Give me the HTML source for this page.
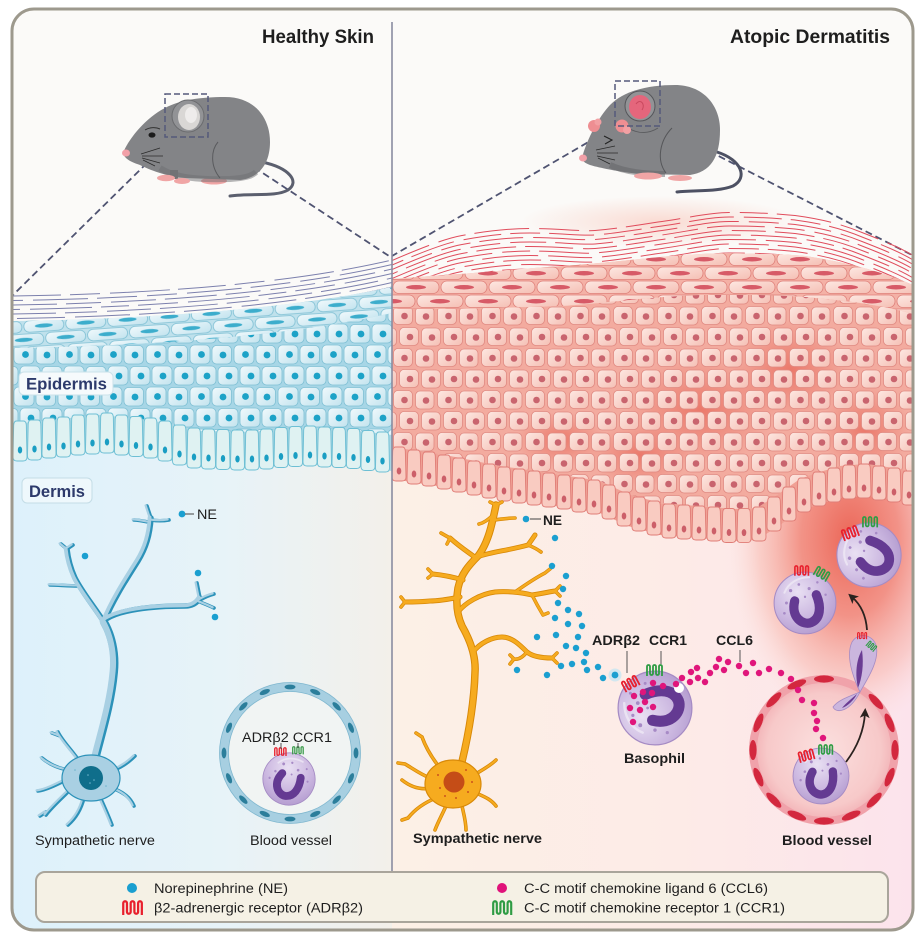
<!DOCTYPE html>
<html><head><meta charset="utf-8"><title>Healthy Skin vs Atopic Dermatitis</title>
<style>
html,body{margin:0;padding:0;background:#fff}
body{width:924px;height:941px;overflow:hidden}
svg{display:block}
text{font-family:"Liberation Sans",Arial,Helvetica,sans-serif;fill:#1e1e1e}
.b{font-weight:bold}
</style></head><body>
<svg xmlns="http://www.w3.org/2000/svg" width="924" height="941" viewBox="0 0 924 941">
<defs>
<clipPath id="fc"><rect x="12" y="9" width="901" height="921" rx="22"/></clipPath>
<linearGradient id="hd" gradientUnits="userSpaceOnUse" x1="13" y1="0" x2="392" y2="0">
<stop offset="0" stop-color="#ddf1fb"/><stop offset="0.55" stop-color="#e7f3f8"/><stop offset="1" stop-color="#f3f0ea"/></linearGradient>
<linearGradient id="ad" gradientUnits="userSpaceOnUse" x1="392" y1="0" x2="913" y2="0">
<stop offset="0" stop-color="#fcf0e6"/><stop offset="0.55" stop-color="#fdebe7"/><stop offset="1" stop-color="#fce3ec"/></linearGradient>
<radialGradient id="glow"><stop offset="0" stop-color="#ea5f4f" stop-opacity="0.95"/><stop offset="0.4" stop-color="#ef7766" stop-opacity="0.75"/><stop offset="0.75" stop-color="#f5a595" stop-opacity="0.38"/><stop offset="1" stop-color="#fbd8cf" stop-opacity="0"/></radialGradient>
<radialGradient id="patch"><stop offset="0" stop-color="#e96d5e" stop-opacity="0.8"/><stop offset="1" stop-color="#e96d5e" stop-opacity="0"/></radialGradient>
<radialGradient id="haze"><stop offset="0" stop-color="#f9d3c9" stop-opacity="0.8"/><stop offset="1" stop-color="#f9d3c9" stop-opacity="0"/></radialGradient>
<linearGradient id="hcg" x1="0" y1="0" x2="1" y2="1"><stop offset="0" stop-color="#f0f9fc"/><stop offset="1" stop-color="#c2e3ee"/></linearGradient>
<linearGradient id="acg" x1="0" y1="0" x2="1" y2="1"><stop offset="0" stop-color="#fde8e2"/><stop offset="1" stop-color="#f5bfb4"/></linearGradient>
<radialGradient id="cg" cx="0.38" cy="0.32" r="0.75"><stop offset="0" stop-color="#e9e0f3"/><stop offset="0.6" stop-color="#cbb7e0"/><stop offset="1" stop-color="#b39bcf"/></radialGradient>
<radialGradient id="vg"><stop offset="0" stop-color="#fbe0df"/><stop offset="0.8" stop-color="#f7c9c9"/><stop offset="1" stop-color="#f2b2b6"/></radialGradient>

<pattern id="hsp" width="44" height="42" patternUnits="userSpaceOnUse" x="13" y="344">
<g fill="url(#hcg)" stroke="#7fc0d4" stroke-width="0.8">
<rect x="1" y="1" width="20" height="19" rx="4.5"/><rect x="23" y="1.5" width="19.5" height="18.5" rx="4.5"/>
<rect x="7" y="22" width="20" height="19" rx="4.5"/><rect x="29" y="22.5" width="20" height="18.5" rx="4.5"/><rect x="-15" y="22.5" width="20" height="18.5" rx="4.5"/>
</g>
<g fill="#1ca2c7"><circle cx="12.5" cy="10.5" r="3.4"/><circle cx="34" cy="11" r="3.4"/><circle cx="18" cy="32" r="3.4"/><circle cx="40" cy="32" r="3.4"/><circle cx="-4" cy="32" r="3.4"/></g>
</pattern>
<pattern id="asp" width="44" height="42" patternUnits="userSpaceOnUse" x="392" y="305">
<g fill="url(#acg)" stroke="#e08a82" stroke-width="0.8">
<rect x="1.5" y="1.5" width="19" height="18" rx="4.5"/><rect x="23.5" y="2" width="18.5" height="18" rx="4.5"/>
<rect x="7.5" y="22.5" width="19" height="18" rx="4.5"/><rect x="29.5" y="23" width="19" height="18" rx="4.5"/><rect x="-14.5" y="23" width="19" height="18" rx="4.5"/>
</g>
<g fill="#c9646e"><circle cx="12.5" cy="11" r="3.3"/><circle cx="34" cy="11.5" r="3.3"/><circle cx="18" cy="32" r="3.3"/><circle cx="40" cy="32.5" r="3.3"/><circle cx="-4" cy="32.5" r="3.3"/></g>
</pattern>
<pattern id="hgr" width="42" height="26" patternUnits="userSpaceOnUse" y="321" patternTransform="rotate(-4)">
<g fill="url(#hcg)" stroke="#7fc0d4" stroke-width="0.8">
<rect x="1" y="1" width="40" height="11.5" rx="5.5"/><rect x="22" y="14" width="40" height="11.5" rx="5.5"/><rect x="-20" y="14" width="40" height="11.5" rx="5.5"/>
</g>
<g fill="#3cadcc"><ellipse cx="21" cy="6.75" rx="9" ry="2"/><ellipse cx="42" cy="19.75" rx="9" ry="2"/><ellipse cx="0" cy="19.75" rx="9" ry="2"/></g>
</pattern>
<pattern id="agr" width="48" height="28" patternUnits="userSpaceOnUse" x="392" y="252">
<g fill="url(#acg)" stroke="#de7f79" stroke-width="0.8">
<rect x="1" y="1" width="46" height="12.5" rx="6"/><rect x="25" y="15" width="46" height="12.5" rx="6"/><rect x="-23" y="15" width="46" height="12.5" rx="6"/>
</g>
<g fill="#d75a67"><ellipse cx="24" cy="7.25" rx="10" ry="2.2"/><ellipse cx="48" cy="21.25" rx="10" ry="2.2"/><ellipse cx="0" cy="21.25" rx="10" ry="2.2"/></g>
</pattern>

<g id="hb"><path d="M-3.5,0 L3.5,0 Q6,0 6.3,4 L7,36 Q7,40 3,40 L-3,40 Q-7,40 -7,36 L-6.3,4 Q-6,0 -3.5,0 Z" fill="#dff2f2" stroke="#6dbfd4" stroke-width="0.9"/><ellipse cx="0" cy="29" rx="2.2" ry="3.5" fill="#1a9ec3"/></g>
<g id="ab"><path d="M-3.5,0 L3.5,0 Q6,0 6.3,4 L7,30 Q7,34 3,34 L-3,34 Q-7,34 -7,30 L-6.3,4 Q-6,0 -3.5,0 Z" fill="#f9cbc1" stroke="#e07d77" stroke-width="0.9"/><ellipse cx="0" cy="24" rx="2.3" ry="3.5" fill="#cc5f69"/></g>

<path id="rc" d="M1,12 V2.5 A1.5,1.5 0 0 1 4,2.5 V9.5 A1.5,1.5 0 0 0 7,9.5 V2.5 A1.5,1.5 0 0 1 10,2.5 V9.5 A1.5,1.5 0 0 0 13,9.5 V2.5 A1.5,1.5 0 0 1 16,2.5 V12" fill="none" stroke-width="1.8" stroke-linejoin="round"/>

<g id="cell">
<circle r="30" fill="url(#cg)" stroke="#a58bc4" stroke-width="1"/>
<path d="M-20,-10 C-16,-20 -6,-25 4,-25" fill="none" stroke="#f1ecf7" stroke-width="2" stroke-linecap="round" opacity="0.7"/>
<g fill="#a78ac6"><circle cx="-14" cy="-12" r="1.6"/><circle cx="-6" cy="-18" r="1.3"/><circle cx="4" cy="-14" r="1.5"/><circle cx="-18" cy="0" r="1.4"/><circle cx="-10" cy="-4" r="1.2"/><circle cx="12" cy="-20" r="1.2"/><circle cx="-20" cy="10" r="1.3"/><circle cx="20" cy="-8" r="1.2"/><circle cx="0" cy="-6" r="1.1"/></g>
<path d="M-10,-2 C-14,14 -2,22 6,19 C15,15 16,4 11,-8" fill="none" stroke="#643a92" stroke-width="9" stroke-linecap="round"/>
</g>

<marker id="arr" viewBox="0 0 10 10" refX="5" refY="5" markerWidth="10" markerHeight="10" markerUnits="userSpaceOnUse" orient="auto"><path d="M0,0 L10,5 L0,10 L2.5,5 Z" fill="#2a221f"/></marker>

<path id="hct" d="M13,294 C150,292 290,282 392,258"/>
<path id="act" d="M392,258 C420,246 445,236 462,233 C490,228 510,226 530,226 C560,226 580,229 595,228 C620,226 640,222 662,219 C690,215 710,210 729,210 C755,210 775,211 795,213 C825,217 845,223 862,230 C880,237 900,245 913,253"/>
<clipPath id="hcc"><path d="M13,294 C150,292 290,282 392,258 L392,287 C290,309 150,319 13,321 Z"/></clipPath>
<clipPath id="acc"><path d="M392,258 C420,246 445,236 462,233 C490,228 510,226 530,226 C560,226 580,229 595,228 C620,226 640,222 662,219 C690,215 710,210 729,210 C755,210 775,211 795,213 C825,217 845,223 862,230 C880,237 900,245 913,253 L913,285 C900,279 880,272 860,267 C845,263 825,259 805,256 C795,255 780,254 760,254 C740,253 720,253 701,254 C680,255 660,257 630,260 C610,262 590,264 563,266 C530,268 500,271 460,274 C440,275 420,277 392,279 Z"/></clipPath>
<clipPath id="asc"><path d="M392,309 C420,309 440,309 460,309 C500,308 530,307 563,306 C590,304 610,302 630,300 C660,297 680,296 701,295 C720,295 740,295 760,295 C780,296 795,296 805,297 C825,299 845,301 860,303 C880,306 900,310 913,314 L913,472 L900,469 L867,464 L840,466 L817,473 L800,479 L780,493 L757,508 L735,509 L710,507 L660,503 L628,494 L600,481 L550,473 L500,466 L450,456 L392,447 Z"/></clipPath>

<path id="hn1" d="M94,764 C101,735 111,705 114,672 C116,652 111,634 104,622"/>
<path id="hn2" d="M104,622 C93,605 82,592 75,578 C70,567 68,558 67,549 M104,622 C113,600 126,580 138,561 C146,548 150,535 151,518 M106,619 C120,610 150,606 185,606 C192,606 197,603 200,598"/>
<path id="hn3" d="M78,586 C68,586 58,585 50,585 M151,518 L147,506 M151,520 C157,521 163,521 169,520 M148,522 C143,521 138,520 134,520 M200,598 L197,583 M200,600 C205,597 210,595 214,594 M200,602 C205,604 210,606 214,608 M67,549 L61,544 M67,549 L73,545"/>
<path id="hd1" d="M80,762 C72,750 63,742 58,732 M68,770 C57,768 49,764 42,758 M66,780 C56,785 46,790 38,791 M70,790 C60,800 52,807 46,815 M84,798 C81,810 75,819 68,825 M100,797 C105,808 109,817 112,825 M112,788 C123,792 130,797 134,806 M114,770 C124,766 130,761 135,756 M60,736 L52,733 M46,812 L40,816"/>

<path id="an1" d="M460,770 C467,742 474,708 475,672 C476,656 470,640 462,626 C456,613 456,600 458,588 C461,574 469,565 478,556 C485,547 489,536 492,523 C494,515 495,510 496,505"/>
<path id="an2" d="M473,652 C480,643 492,637 502,637 C512,637 520,645 527,652 C532,656 540,658 552,658 M458,612 C465,603 480,594 495,592 C505,591 520,592 532,595 C540,594 548,592 555,591 M480,556 C492,552 510,550 528,545 C531,541 533,538 535,535 M476,558 C468,552 460,547 450,538 M460,597 C450,599 440,601 430,601 C420,602 412,602 405,602 M463,580 C453,577 443,575 433,574"/>
<path id="an3" d="M527,652 C523,657 519,660 514,659 M532,595 C536,603 540,610 543,615 M515,592 C525,585 535,578 545,573 M493,515 C488,520 484,523 479,524 M494,520 C502,519 508,518 515,518 M528,545 C533,547 537,549 541,552 M448,537 L441,533 M450,538 L447,544 M405,602 L401,597 M405,602 L401,607 M552,658 L557,653 M552,658 L557,663 M555,591 L560,586 M555,591 L560,596 M496,505 L490,502 M496,505 L502,502 M433,574 L428,569 M433,574 L428,578 M543,615 L548,613 M545,573 L550,569 M514,659 L510,655 M514,659 L510,664"/>
<path id="ad1" d="M440,768 C432,758 426,748 422,737 M430,778 C420,774 412,768 405,764 M432,788 C422,790 412,788 402,780 M436,798 C426,802 416,808 408,818 M446,806 C442,815 438,822 435,830 M462,806 C464,815 466,822 466,830 M474,792 C482,796 490,798 496,806 M474,775 C482,770 490,766 496,760 M422,737 L416,733 M405,764 L398,763 M408,818 L402,820"/>
</defs>

<rect width="924" height="941" fill="#fff"/>
<rect x="12" y="9" width="901" height="921" rx="22" fill="#fbfaf8"/>

<g clip-path="url(#fc)">
<rect x="12" y="400" width="380" height="535" fill="url(#hd)"/>
<rect x="392" y="430" width="522" height="505" fill="url(#ad)"/>
<ellipse cx="850" cy="540" rx="122" ry="190" fill="url(#glow)"/>
<ellipse cx="660" cy="222" rx="140" ry="26" fill="url(#haze)"/>

<g fill="none" stroke="#4f5371" stroke-width="1.8" stroke-dasharray="7 4">
<path d="M147,163 L13,295"/><path d="M208,137 L392,258"/>
<path d="M616,126 L392,256"/><path d="M660,126 L912,255"/>
</g>

<!-- healthy epidermis -->
<g clip-path="url(#hcc)" fill="none" stroke="#7c80ad" stroke-width="1">
<use href="#hct" y="2" stroke-dasharray="48 9 30 10 60 8"/>
<use href="#hct" y="6.5" stroke-dasharray="30 10 55 9 40 10" stroke-dashoffset="20"/>
<use href="#hct" y="11" stroke-dasharray="52 9 35 10 45 9" stroke-dashoffset="8"/>
<use href="#hct" y="15.5" stroke-dasharray="40 10 62 9 28 9" stroke-dashoffset="33"/>
<use href="#hct" y="20" stroke-dasharray="58 9 32 10 44 9" stroke-dashoffset="15"/>
<use href="#hct" y="24.5" stroke-dasharray="36 9 48 10 55 9" stroke-dashoffset="41"/>
<use href="#hct" y="29" stroke-dasharray="46 10 38 9 60 9" stroke-dashoffset="5"/>
</g>
<path d="M13,321 C150,319 290,309 392,287 L392,313 C290,336 150,346 13,348 Z" fill="#bfe1ec"/>
<path d="M13,321 C150,319 290,309 392,287 L392,313 C290,336 150,346 13,348 Z" fill="url(#hgr)"/>
<path d="M13,348 C150,346 290,336 392,313 L392,435 L350,430 L300,428 L250,432 L200,431 L150,420 L100,415 L60,419 L13,424 Z" fill="#a7d6e6"/>
<path d="M13,348 C150,346 290,336 392,313 L392,435 L350,430 L300,428 L250,432 L200,431 L150,420 L100,415 L60,419 L13,424 Z" fill="url(#hsp)"/>
<path d="M13,424 L60,419 L100,415 L150,420 L200,431 L250,432 L300,428 L350,430 L392,435 L392,471 L350,466 L300,464 L250,468 L200,467 L150,456 L100,451 L60,455 L13,460 Z" fill="#a9d6e3"/>
<g>
<use href="#hb" x="20" y="421"/><use href="#hb" x="34.5" y="420"/><use href="#hb" x="49" y="418"/><use href="#hb" x="63.5" y="417"/><use href="#hb" x="78" y="415"/><use href="#hb" x="92.5" y="414"/><use href="#hb" x="107" y="413"/><use href="#hb" x="121.5" y="415"/><use href="#hb" x="136" y="416.5"/><use href="#hb" x="150.5" y="418"/><use href="#hb" x="165" y="421"/><use href="#hb" x="179.5" y="425"/><use href="#hb" x="194" y="428"/><use href="#hb" x="208.5" y="429"/><use href="#hb" x="223" y="429.5"/><use href="#hb" x="237.5" y="430"/><use href="#hb" x="252" y="430"/><use href="#hb" x="266.5" y="429"/><use href="#hb" x="281" y="427.5"/><use href="#hb" x="295.5" y="426.5"/><use href="#hb" x="310" y="426"/><use href="#hb" x="324.5" y="427"/><use href="#hb" x="339" y="427.5"/><use href="#hb" x="353.5" y="428.5"/><use href="#hb" x="368" y="430.5"/><use href="#hb" x="382.5" y="432"/>
</g>

<!-- AD epidermis -->
<g clip-path="url(#acc)" fill="none" stroke="#e04c5c" stroke-width="1">
<use href="#act" y="2.5" stroke-dasharray="40 10 28 9 55 10"/>
<use href="#act" y="7" stroke-dasharray="30 9 45 10 38 9" stroke-dashoffset="18"/>
<use href="#act" y="11.5" stroke-dasharray="52 10 30 9 44 10" stroke-dashoffset="9"/>
<use href="#act" y="16" stroke-dasharray="36 9 58 10 30 10" stroke-dashoffset="30"/>
<use href="#act" y="20.5" stroke-dasharray="48 10 34 9 40 9" stroke-dashoffset="12"/>
<use href="#act" y="25" stroke-dasharray="28 9 50 10 46 10" stroke-dashoffset="38"/>
<use href="#act" y="29.5" stroke-dasharray="44 10 36 9 56 10" stroke-dashoffset="4"/>
<use href="#act" y="34" stroke-dasharray="38 9 42 10 30 9" stroke-dashoffset="22"/>
<use href="#act" y="38.5" stroke-dasharray="50 10 30 9 40 10" stroke-dashoffset="15"/>
<use href="#act" y="43" stroke-dasharray="34 9 46 10" stroke-dashoffset="27"/>
</g>
<path d="M392,279 C420,277 440,275 460,274 C500,271 530,268 563,266 C590,264 610,262 630,260 C660,257 680,255 701,254 C720,253 740,253 760,254 C780,254 795,255 805,256 C825,259 845,263 860,267 C880,272 900,279 913,285 L913,314 C900,310 880,306 860,303 C845,301 825,299 805,297 C795,296 780,296 760,295 C740,295 720,295 701,295 C680,296 660,297 630,300 C610,302 590,304 563,306 C530,307 500,308 460,309 C440,309 420,309 392,309 Z" fill="#f4b1a6"/>
<path d="M392,279 C420,277 440,275 460,274 C500,271 530,268 563,266 C590,264 610,262 630,260 C660,257 680,255 701,254 C720,253 740,253 760,254 C780,254 795,255 805,256 C825,259 845,263 860,267 C880,272 900,279 913,285 L913,314 C900,310 880,306 860,303 C845,301 825,299 805,297 C795,296 780,296 760,295 C740,295 720,295 701,295 C680,296 660,297 630,300 C610,302 590,304 563,306 C530,307 500,308 460,309 C440,309 420,309 392,309 Z" fill="url(#agr)"/>
<g clip-path="url(#asc)">
<rect x="392" y="290" width="522" height="230" fill="#f3ab9f"/>
<ellipse cx="700" cy="410" rx="75" ry="55" fill="url(#patch)"/>
<ellipse cx="790" cy="370" rx="60" ry="50" fill="url(#patch)"/>
<ellipse cx="640" cy="455" rx="50" ry="32" fill="url(#patch)"/>
<ellipse cx="865" cy="430" rx="45" ry="45" fill="url(#patch)"/>
<ellipse cx="560" cy="440" rx="45" ry="28" fill="url(#patch)"/>
<rect x="392" y="290" width="522" height="230" fill="url(#asp)"/>
</g>
<path d="M392,447 L450,456 L500,466 L550,473 L600,481 L628,494 L660,503 L710,507 L735,509 L757,508 L780,493 L800,479 L817,473 L840,466 L867,464 L900,469 L913,472 L913,504 L900,501 L867,496 L840,498 L817,505 L800,511 L780,525 L757,540 L735,541 L710,539 L660,535 L628,526 L600,513 L550,505 L500,498 L450,488 L392,479 Z" fill="#f0a195"/>
<g>
<use href="#ab" x="399" y="447"/><use href="#ab" x="414" y="450"/><use href="#ab" x="429" y="452"/><use href="#ab" x="444" y="455"/><use href="#ab" x="459" y="458"/><use href="#ab" x="474" y="461"/><use href="#ab" x="489" y="464"/><use href="#ab" x="504" y="467"/><use href="#ab" x="519" y="469"/><use href="#ab" x="534" y="471"/><use href="#ab" x="549" y="473"/><use href="#ab" x="564" y="475"/><use href="#ab" x="579" y="478"/><use href="#ab" x="594" y="480"/><use href="#ab" x="609" y="485"/><use href="#ab" x="624" y="492"/><use href="#ab" x="639" y="497"/><use href="#ab" x="654" y="501"/><use href="#ab" x="669" y="504"/><use href="#ab" x="684" y="505"/><use href="#ab" x="699" y="506"/><use href="#ab" x="714" y="507"/><use href="#ab" x="729" y="508.5"/><use href="#ab" x="744" y="508.6"/><use href="#ab" x="759" y="507"/><use href="#ab" x="774" y="497"/><use href="#ab" x="789" y="487"/><use href="#ab" x="804" y="478"/><use href="#ab" x="819" y="472"/><use href="#ab" x="834" y="468"/><use href="#ab" x="849" y="465"/><use href="#ab" x="864" y="464"/><use href="#ab" x="879" y="466"/><use href="#ab" x="894" y="468"/><use href="#ab" x="909" y="471"/>
</g>

<line x1="392" y1="22" x2="392" y2="872" stroke="#8a8ca0" stroke-width="1.6"/>

<!-- healthy mouse -->
<g>
<path d="M262,162 C290,168 300,182 288,190 C276,197 252,193 230,196" fill="none" stroke="#5b5f6e" stroke-width="3" stroke-linecap="round"/>
<ellipse cx="214" cy="181" rx="13" ry="3.5" fill="#f0a5a5"/>
<path d="M123,153 C128,140 145,118 165,108 C180,100 200,97 225,97 C255,97 270,118 270,142 C270,165 258,178 240,180 L185,178 C165,176 150,170 140,165 C130,162 124,158 123,153 Z" fill="#838487"/>
<path d="M160,168 C175,178 200,180 230,179 C245,178 252,176 256,172" fill="none" stroke="#6d6e71" stroke-width="6" opacity="0.5"/>
<path d="M218,142 C211,150 210,166 220,178" fill="none" stroke="#5a5b5e" stroke-width="1"/>
<rect x="170" y="170" width="8" height="9" fill="#717275"/>
<ellipse cx="166" cy="178" rx="9" ry="3.2" fill="#f0a5a5"/>
<ellipse cx="182" cy="181" rx="8" ry="3" fill="#f0a5a5"/>
<circle cx="188" cy="116" r="16" fill="#929396" stroke="#6a6b6e" stroke-width="1"/>
<ellipse cx="189" cy="117" rx="11" ry="13" fill="#d9d7d5"/>
<ellipse cx="191" cy="115" rx="6" ry="8" fill="#eeeceb"/>
<ellipse cx="152" cy="135" rx="3.5" ry="2.6" fill="#1b1b1b"/>
<path d="M145,130 C150,127 156,127 160,129" stroke="#333" stroke-width="1" fill="none"/>
<ellipse cx="126" cy="153" rx="4" ry="3.5" fill="#f2a0a8"/>
<g stroke="#2a2a2a" stroke-width="0.7" fill="none"><path d="M141,154 L160,148"/><path d="M142,156 L163,156"/><path d="M142,158 L160,163"/><path d="M143,160 L155,166"/></g>
</g>

<!-- AD mouse -->
<g>
<path d="M717,152 C742,160 748,178 733,186 C718,192 695,190 677,192" fill="none" stroke="#4d5163" stroke-width="3" stroke-linecap="round"/>
<path d="M582,158 C585,145 596,120 610,105 C625,90 650,85 675,85 C703,85 720,105 720,130 C720,158 710,172 690,175 L640,174 C620,172 600,168 590,165 C585,163 582,161 582,158 Z" fill="#838487"/>
<path d="M610,165 C625,172 645,174 665,174" fill="none" stroke="#616265" stroke-width="6" opacity="0.5"/>
<path d="M672,128 C660,140 656,160 666,173" fill="none" stroke="#555659" stroke-width="1"/>
<path d="M628,128 C640,135 650,133 658,128" fill="none" stroke="#5a5b5e" stroke-width="0.9"/>
<ellipse cx="648" cy="176" rx="14" ry="3.5" fill="#f0a5a5"/>
<ellipse cx="680" cy="178" rx="12" ry="3" fill="#f0a5a5"/>
<circle cx="640" cy="106" r="15" fill="#929396" stroke="#55565a" stroke-width="1"/>
<ellipse cx="640" cy="107" rx="11" ry="12" fill="#e5667c"/>
<path d="M636,104 C640,98 646,104 642,110" fill="none" stroke="#c9485e" stroke-width="1"/>
<circle cx="594" cy="126" r="6" fill="#ee8e92"/><circle cx="598" cy="122" r="3.5" fill="#f2a0a3"/>
<circle cx="622" cy="126" r="6.5" fill="#ee8e92"/><circle cx="627" cy="130" r="4" fill="#f2a0a3"/>
<path d="M604,136 L612,140 L605,144" fill="none" stroke="#222" stroke-width="1.1"/>
<ellipse cx="583" cy="158" rx="4" ry="3.5" fill="#f2a0a8"/>
<g stroke="#2a2a2a" stroke-width="0.8" fill="none"><path d="M596,150 L615,146"/><path d="M597,153 L618,153"/><path d="M597,156 L615,160"/><path d="M598,158 L610,164"/></g>
</g>

<g fill="none" stroke="#55597a" stroke-width="1.5" stroke-dasharray="6 3">
<rect x="165" y="94" width="43" height="43"/><rect x="615" y="81" width="45" height="45"/>
</g>

<text class="b" x="262" y="43" font-size="19" textLength="112" lengthAdjust="spacingAndGlyphs">Healthy Skin</text>
<text class="b" x="730" y="43" font-size="19" textLength="160" lengthAdjust="spacingAndGlyphs">Atopic Dermatitis</text>

<rect x="19" y="372" width="94" height="23" rx="5" fill="#f6fafc" stroke="#cbe2ea" stroke-width="1"/>
<text class="b" x="26" y="389.5" font-size="16.5" textLength="81" lengthAdjust="spacingAndGlyphs" style="fill:#2d3a6b">Epidermis</text>
<rect x="22" y="478" width="70" height="25" rx="5" fill="#eef8fc" stroke="#c4dde6" stroke-width="1"/>
<text class="b" x="29" y="497" font-size="16.5" textLength="56" lengthAdjust="spacingAndGlyphs" style="fill:#2d3a6b">Dermis</text>

<!-- healthy nerve -->
<g fill="none" stroke-linecap="round" stroke-linejoin="round">
<use href="#hd1" stroke="#2c92b9" stroke-width="3.6"/>
<use href="#hn1" stroke="#2c92b9" stroke-width="8"/>
<use href="#hn2" stroke="#2c92b9" stroke-width="5.5"/>
<use href="#hn3" stroke="#2c92b9" stroke-width="3.6"/>
<g transform="translate(-1.4,-0.6)">
<use href="#hd1" stroke="#a9d0e3" stroke-width="2.2"/>
<use href="#hn1" stroke="#a9d0e3" stroke-width="6"/>
<use href="#hn2" stroke="#a9d0e3" stroke-width="3.8"/>
<use href="#hn3" stroke="#a9d0e3" stroke-width="2.2"/>
</g></g>
<ellipse cx="91" cy="778" rx="29" ry="23" fill="#a9d0e3" stroke="#2c92b9" stroke-width="1.2"/>
<circle cx="91" cy="778" r="12" fill="#0f6e8b"/>
<g fill="#6fb4cb"><circle cx="88" cy="775" r="0.8"/><circle cx="94" cy="780" r="0.8"/><circle cx="90" cy="783" r="0.8"/><circle cx="75" cy="770" r="0.8"/><circle cx="106" cy="786" r="0.8"/></g>
<g fill="#1a9fd0"><circle cx="182" cy="514" r="3.4"/><circle cx="85" cy="556" r="3.3"/><circle cx="198" cy="573" r="3.3"/><circle cx="215" cy="617" r="3.3"/></g>
<line x1="185" y1="514" x2="194" y2="514" stroke="#444" stroke-width="1"/>
<text x="197" y="519" font-size="13.5" textLength="20" lengthAdjust="spacingAndGlyphs">NE</text>
<text x="35" y="845" font-size="13.5" textLength="120" lengthAdjust="spacingAndGlyphs">Sympathetic nerve</text>

<!-- healthy vessel -->
<g transform="translate(290,753)">
<circle r="66" fill="#f1f4f3" stroke="#a7cfe1" stroke-width="9"/>
<circle r="70.5" fill="none" stroke="#7fb7cf" stroke-width="0.8"/>
<circle r="61.5" fill="none" stroke="#7fb7cf" stroke-width="0.8"/>
<g fill="#2b7e9b">
<ellipse cy="-66" rx="5.5" ry="2.4"/><ellipse cy="-66" rx="5.5" ry="2.4" transform="rotate(22.5)"/><ellipse cy="-66" rx="5.5" ry="2.4" transform="rotate(45)"/><ellipse cy="-66" rx="5.5" ry="2.4" transform="rotate(67.5)"/><ellipse cy="-66" rx="5.5" ry="2.4" transform="rotate(90)"/><ellipse cy="-66" rx="5.5" ry="2.4" transform="rotate(112.5)"/><ellipse cy="-66" rx="5.5" ry="2.4" transform="rotate(135)"/><ellipse cy="-66" rx="5.5" ry="2.4" transform="rotate(157.5)"/><ellipse cy="-66" rx="5.5" ry="2.4" transform="rotate(180)"/><ellipse cy="-66" rx="5.5" ry="2.4" transform="rotate(202.5)"/><ellipse cy="-66" rx="5.5" ry="2.4" transform="rotate(225)"/><ellipse cy="-66" rx="5.5" ry="2.4" transform="rotate(247.5)"/><ellipse cy="-66" rx="5.5" ry="2.4" transform="rotate(270)"/><ellipse cy="-66" rx="5.5" ry="2.4" transform="rotate(292.5)"/><ellipse cy="-66" rx="5.5" ry="2.4" transform="rotate(315)"/><ellipse cy="-66" rx="5.5" ry="2.4" transform="rotate(337.5)"/>
</g></g>
<use href="#cell" transform="translate(289,779) scale(0.87) rotate(30)"/>
<use href="#rc" stroke="#e8202d" transform="translate(274,747) scale(0.75)"/>
<use href="#rc" stroke="#3a9a4a" transform="translate(292,746) scale(0.7)"/>
<g stroke="#444" stroke-width="0.9"><line x1="281" y1="743" x2="281" y2="749"/><line x1="298" y1="743" x2="298" y2="748"/></g>
<text x="242" y="742" font-size="13.5" textLength="90" lengthAdjust="spacingAndGlyphs">ADRβ2 CCR1</text>
<text x="250" y="845" font-size="13.5" textLength="82" lengthAdjust="spacingAndGlyphs">Blood vessel</text>

<!-- AD nerve -->
<g fill="none" stroke-linecap="round" stroke-linejoin="round">
<use href="#ad1" stroke="#d88908" stroke-width="3.6"/>
<use href="#an1" stroke="#d88908" stroke-width="7.5"/>
<use href="#an2" stroke="#d88908" stroke-width="5"/>
<use href="#an3" stroke="#d88908" stroke-width="3.6"/>
<use href="#ad1" stroke="#f6ab1f" stroke-width="2"/>
<use href="#an1" stroke="#f6ab1f" stroke-width="5.5"/>
<use href="#an2" stroke="#f6ab1f" stroke-width="3.4"/>
<use href="#an3" stroke="#f6ab1f" stroke-width="2.2"/>
</g>
<ellipse cx="453" cy="784" rx="28" ry="24" fill="#f6ab1f" stroke="#d88908" stroke-width="1.2"/>
<circle cx="454" cy="782" r="10.5" fill="#c54d17"/>
<g fill="#c0391b"><circle cx="438" cy="775" r="0.9"/><circle cx="468" cy="792" r="0.9"/><circle cx="445" cy="796" r="0.9"/><circle cx="466" cy="770" r="0.9"/><circle cx="440" cy="788" r="0.9"/><circle cx="472" cy="782" r="0.9"/><circle cx="456" cy="798" r="0.9"/></g>

<circle cx="615" cy="675" r="6.5" fill="#bfe6f4" opacity="0.7"/>
<g fill="#1b9fd0">
<circle cx="526" cy="519" r="3.3"/>
<circle cx="555" cy="538" r="3.2"/><circle cx="552" cy="566" r="3.2"/><circle cx="566" cy="576" r="3.2"/><circle cx="563" cy="589" r="3.2"/><circle cx="558" cy="603" r="3.2"/><circle cx="568" cy="610" r="3.2"/><circle cx="579" cy="614" r="3.2"/><circle cx="555" cy="618" r="3.2"/><circle cx="568" cy="624" r="3.2"/><circle cx="582" cy="626" r="3.2"/><circle cx="537" cy="637" r="3.2"/><circle cx="556" cy="635" r="3.2"/><circle cx="578" cy="637" r="3.2"/><circle cx="566" cy="646" r="3.2"/><circle cx="576" cy="648" r="3.2"/><circle cx="586" cy="653" r="3.2"/><circle cx="517" cy="670" r="3.2"/><circle cx="547" cy="675" r="3.2"/><circle cx="561" cy="666" r="3.2"/><circle cx="572" cy="664" r="3.2"/><circle cx="584" cy="662" r="3.2"/><circle cx="587" cy="670" r="3.2"/><circle cx="598" cy="667" r="3.2"/><circle cx="603" cy="678" r="3.2"/><circle cx="615" cy="675" r="3.4"/>
</g>
<line x1="530" y1="519" x2="541" y2="519" stroke="#444" stroke-width="1"/>
<text class="b" x="543" y="525" font-size="14" textLength="19" lengthAdjust="spacingAndGlyphs">NE</text>

<g transform="translate(824,750)">
<circle r="71" fill="url(#vg)" stroke="#f0a2aa" stroke-width="8"/>
<g fill="#d3283e">
<ellipse cy="-71" rx="10" ry="3.6"/><ellipse cy="-71" rx="10" ry="3.6" transform="rotate(47)"/><ellipse cy="-71" rx="10" ry="3.6" transform="rotate(67.5)"/><ellipse cy="-71" rx="10" ry="3.6" transform="rotate(90)"/><ellipse cy="-71" rx="10" ry="3.6" transform="rotate(112.5)"/><ellipse cy="-71" rx="10" ry="3.6" transform="rotate(135)"/><ellipse cy="-71" rx="10" ry="3.6" transform="rotate(157.5)"/><ellipse cy="-71" rx="10" ry="3.6" transform="rotate(180)"/><ellipse cy="-71" rx="10" ry="3.6" transform="rotate(202.5)"/><ellipse cy="-71" rx="10" ry="3.6" transform="rotate(225)"/><ellipse cy="-71" rx="10" ry="3.6" transform="rotate(247.5)"/><ellipse cy="-71" rx="10" ry="3.6" transform="rotate(270)"/><ellipse cy="-71" rx="10" ry="3.6" transform="rotate(292.5)"/><ellipse cy="-71" rx="10" ry="3.6" transform="rotate(315)"/><ellipse cy="-71" rx="10" ry="3.6" transform="rotate(337.5)"/>
</g></g>

<use href="#cell" transform="translate(655,708) scale(1.23) rotate(-90)"/>
<circle cx="679" cy="688" r="5" fill="#fff"/>
<g fill="#e0167b">
<circle cx="653" cy="683" r="3.2"/><circle cx="663" cy="686" r="3.2"/><circle cx="634" cy="696" r="3.2"/><circle cx="643" cy="692" r="3.2"/><circle cx="652" cy="693" r="3.2"/><circle cx="645" cy="702" r="3.2"/><circle cx="653" cy="707" r="3.2"/><circle cx="630" cy="708" r="3.2"/><circle cx="640" cy="710" r="3.2"/><circle cx="633" cy="722" r="3.2"/>
<circle cx="676" cy="684" r="3.2"/><circle cx="682" cy="678" r="3.2"/><circle cx="691" cy="672" r="3.2"/><circle cx="690" cy="682" r="3.2"/><circle cx="697" cy="668" r="3.2"/><circle cx="698" cy="678" r="3.2"/><circle cx="705" cy="682" r="3.2"/><circle cx="710" cy="673" r="3.2"/><circle cx="716" cy="667" r="3.2"/><circle cx="719" cy="659" r="3.2"/><circle cx="724" cy="670" r="3.2"/><circle cx="728" cy="662" r="3.2"/><circle cx="739" cy="666" r="3.2"/><circle cx="746" cy="673" r="3.2"/><circle cx="753" cy="663" r="3.2"/><circle cx="759" cy="673" r="3.2"/><circle cx="769" cy="669" r="3.2"/><circle cx="781" cy="673" r="3.2"/><circle cx="791" cy="679" r="3.2"/><circle cx="798" cy="690" r="3.2"/><circle cx="802" cy="700" r="3.2"/><circle cx="814" cy="703" r="3.2"/><circle cx="814" cy="713" r="3.2"/><circle cx="817" cy="721" r="3.2"/><circle cx="816" cy="729" r="3.2"/><circle cx="823" cy="738" r="3.2"/>
</g>
<use href="#rc" stroke="#e8202d" transform="translate(620,682) rotate(-28)"/>
<use href="#rc" stroke="#2f9c44" transform="translate(646,664)"/>
<g stroke="#444" stroke-width="0.9"><line x1="627" y1="651" x2="627" y2="673"/><line x1="661" y1="651" x2="661" y2="664"/><line x1="740" y1="650" x2="740" y2="662"/></g>
<text class="b" x="592" y="645" font-size="14" textLength="48" lengthAdjust="spacingAndGlyphs">ADRβ2</text>
<text class="b" x="649" y="645" font-size="14" textLength="38" lengthAdjust="spacingAndGlyphs">CCR1</text>
<text class="b" x="716" y="645" font-size="14" textLength="37" lengthAdjust="spacingAndGlyphs">CCL6</text>
<text class="b" x="624" y="763" font-size="14" textLength="61" lengthAdjust="spacingAndGlyphs">Basophil</text>

<use href="#cell" transform="translate(821,776) scale(0.93) rotate(15)"/>
<use href="#cell" transform="translate(805,603) scale(1.03)"/>
<use href="#cell" transform="translate(869,555) scale(1.07) rotate(-50)"/>
<path d="M860,692 C852,675 846,655 852,642 C858,632 872,634 876,645 C880,660 868,678 860,692 Z" fill="#cbb6de" stroke="#a58bc4" stroke-width="0.8"/>
<path d="M860,692 C850,696 838,700 833,707 C836,714 850,712 860,692 Z" fill="#cbb6de" stroke="#a58bc4" stroke-width="0.8"/>
<path d="M858,688 C855,675 856,660 862,650 C864,665 862,678 858,688 Z" fill="#6a3c93"/>
<path d="M857,694 C850,700 845,704 842,708 C848,706 854,700 857,694 Z" fill="#6a3c93"/>
<use href="#rc" stroke="#e8202d" transform="translate(840,530) rotate(-20)"/>
<use href="#rc" stroke="#2f9c44" transform="translate(862,516) scale(0.95)"/>
<use href="#rc" stroke="#e8202d" transform="translate(794,565) scale(0.9)"/>
<use href="#rc" stroke="#2f9c44" transform="translate(818,565) rotate(30) scale(0.9)"/>
<use href="#rc" stroke="#e8202d" transform="translate(797,752) rotate(-15) scale(0.95)"/>
<use href="#rc" stroke="#2f9c44" transform="translate(818,744) scale(0.9)"/>
<use href="#rc" stroke="#e8202d" transform="translate(857,632) scale(0.6)"/>
<use href="#rc" stroke="#2f9c44" transform="translate(870,640) rotate(40) scale(0.6)"/>
<g fill="none" stroke="#2a221f" stroke-width="1.8">
<path d="M846,762 C858,746 864,730 865,713" marker-end="url(#arr)"/>
<path d="M867,630 C866,615 860,604 852,597" marker-end="url(#arr)"/>
</g>

<text class="b" x="413" y="843" font-size="14" textLength="129" lengthAdjust="spacingAndGlyphs">Sympathetic nerve</text>
<text class="b" x="782" y="845" font-size="14" textLength="90" lengthAdjust="spacingAndGlyphs">Blood vessel</text>

<rect x="36" y="872" width="852" height="50" rx="9" fill="#f5f1e5" stroke="#a9a59b" stroke-width="2"/>
<circle cx="132" cy="888" r="5" fill="#1a9fd0"/>
<text x="154" y="893" font-size="13.5" textLength="134" lengthAdjust="spacingAndGlyphs">Norepinephrine (NE)</text>
<use href="#rc" stroke="#e8202d" transform="translate(122,900) scale(1.24,1.25)"/>
<text x="154" y="912.5" font-size="13.5" textLength="209" lengthAdjust="spacingAndGlyphs">β2-adrenergic receptor (ADRβ2)</text>
<circle cx="502" cy="888" r="5" fill="#e0127a"/>
<text x="524" y="893" font-size="13.5" textLength="244" lengthAdjust="spacingAndGlyphs">C-C motif chemokine ligand 6 (CCL6)</text>
<use href="#rc" stroke="#2f9c44" transform="translate(492,900) scale(1.2,1.25)"/>
<text x="524" y="912.5" font-size="13.5" textLength="261" lengthAdjust="spacingAndGlyphs">C-C motif chemokine receptor 1 (CCR1)</text>
</g>

<rect x="12" y="9" width="901" height="921" rx="22" fill="none" stroke="#9d998d" stroke-width="3"/>
</svg>
</body></html>
